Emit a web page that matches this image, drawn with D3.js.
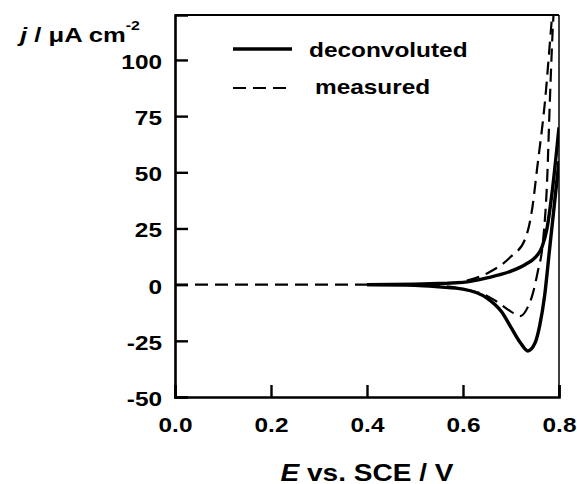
<!DOCTYPE html>
<html>
<head>
<meta charset="utf-8">
<script src="https://cdn.jsdelivr.net/npm/d3@7"></script>
<style>
  body { margin: 0; background: #fff; }
  text { font-family: "Liberation Sans", Arial, sans-serif; font-weight: bold; }
</style>
</head>
<body>
<svg id="chart" width="577" height="484"></svg>
<script>
// potentials (V) and current densities (uA cm-2)
var baseE = [0.0, 0.4];
var baseJ = [0, 0];

var deconvUpE = [0.40, 0.50, 0.55, 0.60, 0.65, 0.70, 0.73, 0.75, 0.765, 0.775, 0.785, 0.80];
var deconvUpJ = [0, 0.2, 0.5, 1, 3, 6, 9, 12, 17, 25, 40, 70];
var deconvDownE = [0.40, 0.50, 0.55, 0.60, 0.65, 0.68, 0.70, 0.72, 0.735, 0.75, 0.76, 0.77, 0.78, 0.79, 0.80];
var deconvDownJ = [0, -0.3, -1, -2, -6, -12, -19, -26, -29.5, -26, -18, -5, 15, 35, 55];

var measUpE = [0.40, 0.50, 0.55, 0.60, 0.65, 0.70, 0.729, 0.745, 0.754, 0.771, 0.785, 0.79];
var measUpJ = [0, 0.2, 0.5, 1.5, 5, 12.5, 20, 35, 51, 82, 118, 130];
var measDownE = [0.40, 0.50, 0.55, 0.60, 0.65, 0.67, 0.70, 0.719, 0.735, 0.744, 0.755, 0.767, 0.775, 0.781, 0.788, 0.792];
var measDownJ = [0, -0.2, -0.5, -2, -5, -7.5, -12, -14, -10, -5, 5, 20, 45, 82, 118, 130];

var xTicks = [0.0, 0.2, 0.4, 0.6, 0.8];
var yTicks = [-50, -25, 0, 25, 50, 75, 100];

var sx = 1.22; // the figure's lettering is set wide

var svg = d3.select("#chart");

var x = d3.scaleLinear().domain([0, 0.8]).range([175, 559]);
var y = d3.scaleLinear().domain([-50, 120]).range([397, 15]);

svg.append("clipPath").attr("id", "clip")
  .append("rect").attr("x", 175).attr("y", 15).attr("width", 384).attr("height", 382);

function zip(es, js) {
  return es.map(function(e, i) { return [e, js[i]]; });
}

var line = d3.line()
  .x(function(d) { return x(d[0]); })
  .y(function(d) { return y(d[1]); })
  .curve(d3.curveMonotoneX);

var plot = svg.append("g").attr("clip-path", "url(#clip)");

// measured (dashed)
[zip(baseE, baseJ), zip(measUpE, measUpJ), zip(measDownE, measDownJ)].forEach(function(pts) {
  plot.append("path")
    .attr("d", line(pts))
    .attr("fill", "none")
    .attr("stroke", "#000")
    .attr("stroke-width", 2.2)
    .attr("stroke-dasharray", "13,7");
});

// deconvoluted (solid)
[zip(deconvUpE, deconvUpJ), zip(deconvDownE, deconvDownJ)].forEach(function(pts) {
  plot.append("path")
    .attr("d", line(pts))
    .attr("fill", "none")
    .attr("stroke", "#000")
    .attr("stroke-width", 3.4);
});

// frame
svg.append("line").attr("x1", 175).attr("x2", 559).attr("y1", 15).attr("y2", 15)
  .attr("stroke", "#000").attr("stroke-width", 2);
svg.append("line").attr("x1", 559).attr("x2", 559).attr("y1", 15).attr("y2", 397)
  .attr("stroke", "#000").attr("stroke-width", 1.5);

// axes with inward ticks
var xAxis = d3.axisBottom(x).tickValues(xTicks).tickSize(-12)
  .tickFormat(d3.format(".1f"));
var yAxis = d3.axisLeft(y).tickValues(yTicks).tickSize(-13)
  .tickFormat(function(d) { return String(d); }); // plain hyphen minus

var gx = svg.append("g").attr("transform", "translate(0,397)").call(xAxis);
var gy = svg.append("g").attr("transform", "translate(175,0)").call(yAxis);

[gx, gy].forEach(function(g) {
  g.select(".domain").attr("stroke-width", 2.6).attr("stroke", "#000");
  g.selectAll(".tick line").attr("stroke-width", 2.4).attr("stroke", "#000");
  g.selectAll(".tick text")
    .attr("fill", "#000")
    .attr("transform", "scale(" + sx + ",1)")
    .style("font-size", "20px")
    .style("font-family", "'Liberation Sans', Arial, sans-serif")
    .style("font-weight", "bold");
});
gx.selectAll(".tick text").attr("dy", "0").attr("y", 35);
gy.selectAll(".tick text").attr("x", -13 / sx).attr("dy", "0.42em");

// wide text helper
function wideText(px, py, size) {
  return svg.append("text")
    .attr("transform", "translate(" + px + "," + py + ") scale(" + sx + ",1)")
    .style("font-size", size + "px");
}

// axis titles
var xt = wideText(367, 481, 23).attr("text-anchor", "middle");
xt.append("tspan").style("font-style", "italic").text("E");
xt.append("tspan").text(" vs. SCE / V");

var yt = wideText(20, 42, 21);
yt.append("tspan").style("font-style", "italic").text("j");
yt.append("tspan").text(" / \u03bcA cm");
yt.append("tspan").attr("dy", -12).style("font-size", "13px").text("-2");

// legend
var legend = svg.append("g");
legend.append("line").attr("x1", 233).attr("x2", 292).attr("y1", 49).attr("y2", 49)
  .attr("stroke", "#000").attr("stroke-width", 3.4);
wideText(309, 57, 20).text("deconvoluted");
legend.append("line").attr("x1", 233).attr("x2", 292).attr("y1", 88).attr("y2", 88)
  .attr("stroke", "#000").attr("stroke-width", 2.2).attr("stroke-dasharray", "13,7");
wideText(315, 94, 20).text("measured");
</script>
</body>
</html>
